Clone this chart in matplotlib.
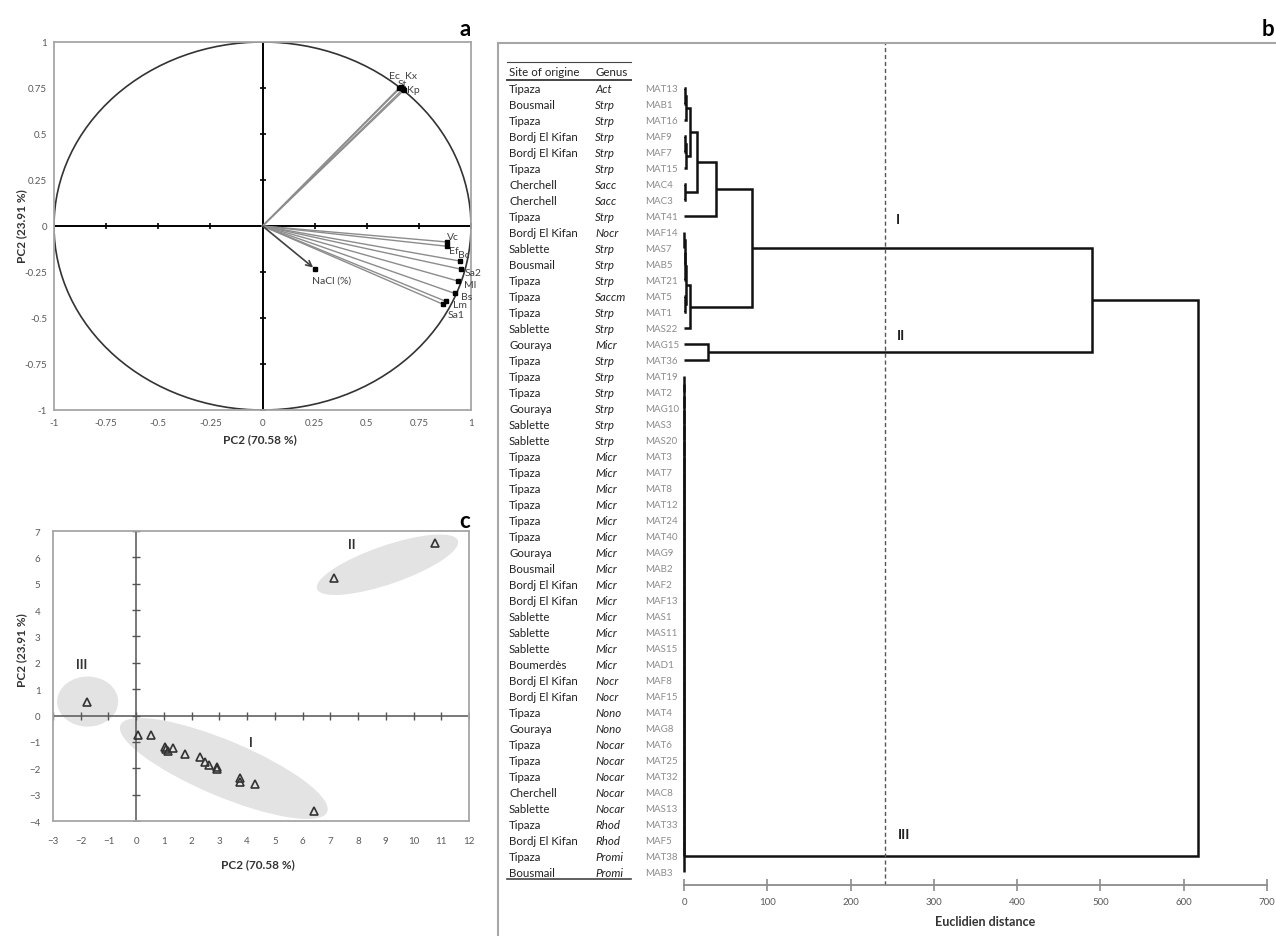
import matplotlib
matplotlib.use("Agg")
import matplotlib.pyplot as plt
import matplotlib.transforms as mtransforms
from matplotlib.patches import Ellipse, Rectangle
from matplotlib.lines import Line2D

plt.rcParams['font.family'] = ['Lato', 'DejaVu Sans']

W, H = 1276, 937

# ---------------- data: panel a (correlation circle) ----------------
var_names = ["Ec", "Kx", "St", "Kp", "Vc", "Ef", "Bc", "Sa2", "Ml", "Bs", "Lm", "Sa1"]
var_pc1 = [0.655, 0.675, 0.665, 0.68, 0.887, 0.883, 0.945, 0.953, 0.94, 0.921, 0.88, 0.865]
var_pc2 = [0.75, 0.745, 0.755, 0.74, -0.087, -0.11, -0.19, -0.235, -0.30, -0.366, -0.41, -0.425]
nacl_pc1, nacl_pc2 = 0.253, -0.235
# where each label sits (data units)
var_label_x = [0.633, 0.713, 0.672, 0.722, 0.915, 0.916, 0.964, 1.012, 0.997, 0.977, 0.948, 0.927]
var_label_y = [0.82, 0.82, 0.775, 0.74, -0.058, -0.134, -0.154, -0.254, -0.32, -0.384, -0.424, -0.48]
a_ticks = [-1, -0.75, -0.5, -0.25, 0, 0.25, 0.5, 0.75, 1]
a_tick_labels = ["-1", "-0.75", "-0.5", "-0.25", "0", "0.25", "0.5", "0.75", "1"]

# ---------------- data: panel c (scores) ----------------
pc1_scores = [10.79, 7.14, -1.76, 0.06, 0.54, 1.05, 1.08, 1.14, 1.31, 1.77,
              2.31, 2.49, 2.64, 2.92, 2.92, 3.75, 3.75, 4.28, 6.41]
pc2_scores = [6.55, 5.21, 0.50, -0.72, -0.72, -1.20, -1.28, -1.34, -1.24, -1.47,
              -1.58, -1.78, -1.86, -1.94, -2.03, -2.36, -2.52, -2.59, -3.63]
c_xticks = list(range(-3, 13))
c_yticks = list(range(-4, 8))
groups = ["I", "II", "III"]
group_ell = [((3.16, -2.01), 8.15, 2.1, -24), ((9.06, 5.72), 5.4, 1.45, 20), ((-1.75, 0.53), 2.2, 1.9, 0)]
group_lab = [(4.12, -1.02), (7.79, 6.5), (-1.96, 1.94)]

# ---------------- data: panel b (dendrogram) ----------------
sites = ["Tipaza", "Bousmail", "Tipaza", "Bordj El Kifan", "Bordj El Kifan", "Tipaza",
         "Cherchell", "Cherchell", "Tipaza", "Bordj El Kifan", "Sablette", "Bousmail",
         "Tipaza", "Tipaza", "Tipaza", "Sablette", "Gouraya", "Tipaza", "Tipaza", "Tipaza",
         "Gouraya", "Sablette", "Sablette", "Tipaza", "Tipaza", "Tipaza", "Tipaza", "Tipaza",
         "Tipaza", "Gouraya", "Bousmail", "Bordj El Kifan", "Bordj El Kifan", "Sablette",
         "Sablette", "Sablette", "Boumerdès", "Bordj El Kifan", "Bordj El Kifan", "Tipaza",
         "Gouraya", "Tipaza", "Tipaza", "Tipaza", "Cherchell", "Sablette", "Tipaza",
         "Bordj El Kifan", "Tipaza", "Bousmail"]
genera = ["Act", "Strp", "Strp", "Strp", "Strp", "Strp", "Sacc", "Sacc", "Strp", "Nocr",
          "Strp", "Strp", "Strp", "Saccm", "Strp", "Strp", "Micr", "Strp", "Strp", "Strp",
          "Strp", "Strp", "Strp", "Micr", "Micr", "Micr", "Micr", "Micr", "Micr", "Micr",
          "Micr", "Micr", "Micr", "Micr", "Micr", "Micr", "Micr", "Nocr", "Nocr", "Nono",
          "Nono", "Nocar", "Nocar", "Nocar", "Nocar", "Nocar", "Rhod", "Rhod", "Promi", "Promi"]
strains = ["MAT13", "MAB1", "MAT16", "MAF9", "MAF7", "MAT15", "MAC4", "MAC3", "MAT41",
           "MAF14", "MAS7", "MAB5", "MAT21", "MAT5", "MAT1", "MAS22", "MAG15", "MAT36",
           "MAT19", "MAT2", "MAG10", "MAS3", "MAS20", "MAT3", "MAT7", "MAT8", "MAT12",
           "MAT24", "MAT40", "MAG9", "MAB2", "MAF2", "MAF13", "MAS1", "MAS11", "MAS15",
           "MAD1", "MAF8", "MAF15", "MAT4", "MAG8", "MAT6", "MAT25", "MAT32", "MAC8",
           "MAS13", "MAT33", "MAF5", "MAT38", "MAB3"]
n = len(strains)
# linkage: (node a, node b, distance); new node ids start at n
merges = [(0, 1, 1.0), (50, 2, 2.5), (3, 4, 1.0), (52, 5, 2.5), (51, 53, 7.0),
          (6, 7, 1.5), (54, 55, 16.0), (56, 8, 38.0),
          (9, 10, 0.5), (58, 11, 1.0), (59, 12, 1.5), (13, 14, 1.5), (60, 61, 3.0),
          (62, 15, 7.0), (57, 63, 81.6), (16, 17, 28.4), (64, 65, 490.0)]
cluster3_leaves = list(range(18, 50))
cluster3_dist = 0.0
root_dist = 617.0
cut_dist = 241
dendro_ticks = [0, 100, 200, 300, 400, 500, 600, 700]


def fx(px):
    return px / W


def fy(py):
    return 1 - py / H


fig = plt.figure(figsize=(W / 100, H / 100), dpi=100)
frame_c = '#a6a6a6'
lab_c = '#595959'

# ================= panel a =================
ax_a = fig.add_axes([fx(54), fy(411), (471 - 54) / W, (411 - 43) / H])
ax_a.set_xlim(-1, 1)
ax_a.set_ylim(-1, 1)
for s in ax_a.spines.values():
    s.set_color(frame_c)
    s.set_linewidth(1.3)
ax_a.set_xticks(a_ticks)
ax_a.set_xticklabels(a_tick_labels)
ax_a.set_yticks(a_ticks)
ax_a.set_yticklabels(a_tick_labels)
ax_a.tick_params(length=0, labelsize=7, labelcolor=lab_c)
ax_a.tick_params(axis='x', pad=6)
ax_a.tick_params(axis='y', pad=5)
ax_a.axhline(0, color='k', lw=1.4, zorder=2)
ax_a.axvline(0, color='k', lw=1.4, zorder=2)
ax_a.plot(a_ticks, [0] * len(a_ticks), ls='none', marker='|', ms=5, mew=1.2, color='k')
ax_a.plot([0] * len(a_ticks), a_ticks, ls='none', marker='_', ms=5, mew=1.2, color='k')
ax_a.add_patch(Ellipse((0, 0), 2, 2, fill=False, ec='#333333', lw=1.2))
for i, name in enumerate(var_names):
    ax_a.plot([0, var_pc1[i]], [0, var_pc2[i]], color='#8c8c8c', lw=1.0, zorder=3)
    ax_a.plot(var_pc1[i], var_pc2[i], marker='s', ms=3, color='k', zorder=4)
    ax_a.text(var_label_x[i], var_label_y[i], name, fontsize=7.5, color='#404040',
              ha='center', va='center', clip_on=False)
ax_a.annotate('', xy=(nacl_pc1, nacl_pc2), xytext=(0, 0),
              arrowprops=dict(arrowstyle='->', color='#404040', lw=1.2, shrinkA=0, shrinkB=2))
ax_a.plot(nacl_pc1, nacl_pc2, marker='s', ms=3, color='k', zorder=4)
ax_a.text(0.33, -0.293, "NaCl (%)", fontsize=7.5, color='#404040', ha='center', va='center')
fig.text(fx(465), fy(30), "a", fontsize=16, fontweight='bold', ha='center', va='center')
fig.text(fx(260), fy(440), "PC2 (70.58 %)", fontsize=8.5, fontweight='bold', color='#333333',
         ha='center', va='center')
fig.text(fx(22), fy(226), "PC2 (23.91 %)", fontsize=8.5, fontweight='bold', color='#333333',
         ha='center', va='center', rotation=90)

# ================= panel c =================
ax_c = fig.add_axes([fx(53), fy(822), (469 - 53) / W, (822 - 532) / H])
ax_c.set_xlim(-3, 12)
ax_c.set_ylim(-4, 7)
for s in ax_c.spines.values():
    s.set_color(frame_c)
    s.set_linewidth(1.3)
ax_c.set_xticks(c_xticks)
ax_c.set_yticks(c_yticks)
ax_c.tick_params(length=0, labelsize=7, labelcolor=lab_c)
ax_c.tick_params(axis='x', pad=11)
ax_c.tick_params(axis='y', pad=9)
for (cxy, w, h, ang) in group_ell:
    ax_c.add_patch(Ellipse(cxy, w, h, angle=ang, fc='#e3e3e3', ec='none', zorder=1))
ax_c.axhline(0, color='#555555', lw=1.1, zorder=2)
ax_c.axvline(0, color='#555555', lw=1.1, zorder=2)
ax_c.plot(c_xticks, [0] * len(c_xticks), ls='none', marker='|', ms=6, mew=1, color='#555555', zorder=2)
ax_c.plot([0] * len(c_yticks), c_yticks, ls='none', marker='_', ms=6, mew=1, color='#555555', zorder=2)
ax_c.plot(pc1_scores, pc2_scores, ls='none', marker='^', ms=6, mfc='none', mec='#333333', mew=1.2, zorder=3)
for g, (lx, ly) in zip(groups, group_lab):
    ax_c.text(lx, ly, g, fontsize=9, fontweight='bold', color='#333333', ha='center', va='center')
fig.text(fx(465), fy(522), "c", fontsize=16, fontweight='bold', ha='center', va='center')
fig.text(fx(258), fy(865), "PC2 (70.58 %)", fontsize=8.5, fontweight='bold', color='#333333',
         ha='center', va='center')
fig.text(fx(22), fy(650), "PC2 (23.91 %)", fontsize=8.5, fontweight='bold', color='#333333',
         ha='center', va='center', rotation=90)

# ================= panel b =================
fig.add_artist(Rectangle((fx(498), fy(960)), (1300 - 498) / W, (960 - 44) / H,
                         transform=fig.transFigure, fill=False, ec=frame_c, lw=1.5))
fig.text(fx(1262), fy(30), "b", fontsize=16, fontweight='bold', ha='left', va='center')

row0_px, row_px = 89.3, 16.0
ax_d = fig.add_axes([fx(684), fy(886), (1267 - 684) / W, (886 - 44) / H])
ax_d.set_xlim(0, 700)
ax_d.set_ylim((886 - row0_px) / row_px, (44 - row0_px) / row_px)
for side in ['left', 'right', 'top']:
    ax_d.spines[side].set_visible(False)
ax_d.spines['bottom'].set_color('#8c8c8c')
ax_d.spines['bottom'].set_linewidth(1.3)
ax_d.patch.set_alpha(0)
ax_d.set_yticks([])
ax_d.set_xticks(dendro_ticks)
ax_d.tick_params(axis='x', direction='inout', length=8, width=1.2, color='#8c8c8c',
                 labelsize=7, labelcolor=lab_c, pad=5)
fig.text(fx(985), fy(922), "Euclidien distance", fontsize=9, fontweight='bold', color='#333333',
         ha='center', va='center')

all_merges = list(merges)
node = cluster3_leaves[0]
next_id = n + len(all_merges)
for leaf in cluster3_leaves[1:]:
    all_merges.append((node, leaf, cluster3_dist))
    node = next_id
    next_id += 1
all_merges.append((n + len(merges) - 1, node, root_dist))

pos = {i: (0.0, float(i)) for i in range(n)}
for k, (a, b, d) in enumerate(all_merges):
    xa, ya = pos[a]
    xb, yb = pos[b]
    ax_d.plot([xa, d, d, xb], [ya, ya, yb, yb], color='#111111', lw=1.8,
              solid_joinstyle='miter', solid_capstyle='butt', clip_on=False)
    pos[n + k] = (d, (ya + yb) / 2)

ax_d.axvline(cut_dist, color='#555555', lw=1, ls=(0, (3, 2)))
ax_d.text(257, 8.17, "I", fontsize=10, fontweight='bold', color='#222222', ha='center', va='center')
ax_d.text(261, 15.4, "II", fontsize=10, fontweight='bold', color='#222222', ha='center', va='center')
ax_d.text(264, 46.6, "III", fontsize=10, fontweight='bold', color='#222222', ha='center', va='center')

trans_tab = mtransforms.blended_transform_factory(fig.transFigure, ax_d.transData)
for i in range(n):
    fig.text(fx(509), i, sites[i], transform=trans_tab, fontsize=8.3, color='#222222', va='center')
    fig.text(fx(595), i, genera[i], transform=trans_tab, fontsize=8.3, color='#222222',
             va='center', style='italic')
    fig.text(fx(645), i, strains[i], transform=trans_tab, fontsize=7.0, color='#8c8c8c', va='center')

fig.text(fx(509), fy(72.7), "Site of origine", fontsize=8.3, color='#222222', va='center')
fig.text(fx(595), fy(72.7), "Genus", fontsize=8.3, color='#222222', va='center')
for py, lw in [(63.3, 0.8), (80.7, 1.4), (880, 1.2)]:
    fig.add_artist(Line2D([fx(507), fx(631)], [fy(py), fy(py)], transform=fig.transFigure,
                          color='#444444', lw=lw))

fig.savefig("out.png", dpi=100, facecolor='white')
